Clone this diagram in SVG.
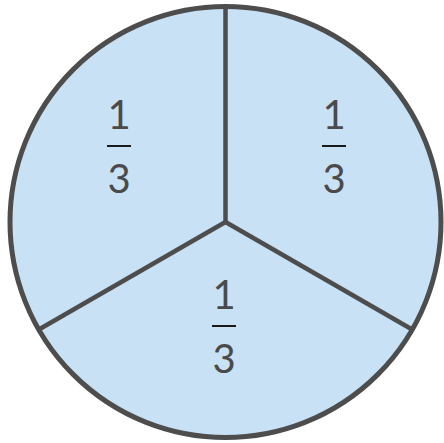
<svg xmlns="http://www.w3.org/2000/svg" width="444" height="443" viewBox="0 0 444 443">
<style>
.num{font-family:Lato,"Liberation Sans",sans-serif;font-size:40px;fill:#4a4a4a;text-anchor:middle}
.bar{stroke:#1a1a1a;stroke-width:2}
.edge{stroke:#4d4d4d;stroke-width:4.5;fill:none}
</style>
<g id="circle">
<circle cx="225.5" cy="222" r="215.5" fill="#c8e1f5" stroke="#4d4d4d" stroke-width="5"/>
</g>
<g id="connectors">
<line class="edge" x1="225.5" y1="222" x2="225.5" y2="6"/>
<line class="edge" x1="225.5" y1="222" x2="38" y2="330"/>
<line class="edge" x1="225.5" y1="222" x2="413" y2="330"/>
</g>
<g id="left">
<text class="num" x="119" y="129">1</text>
<line class="bar" x1="107" y1="146" x2="131" y2="146"/>
<text class="num" x="119" y="193">3</text>
</g>
<g id="right">
<text class="num" x="334" y="129">1</text>
<line class="bar" x1="322" y1="146" x2="346" y2="146"/>
<text class="num" x="334" y="193">3</text>
</g>
<g id="bottom">
<text class="num" x="224" y="309">1</text>
<line class="bar" x1="212" y1="326" x2="236" y2="326"/>
<text class="num" x="224" y="373">3</text>
</g>
</svg>
